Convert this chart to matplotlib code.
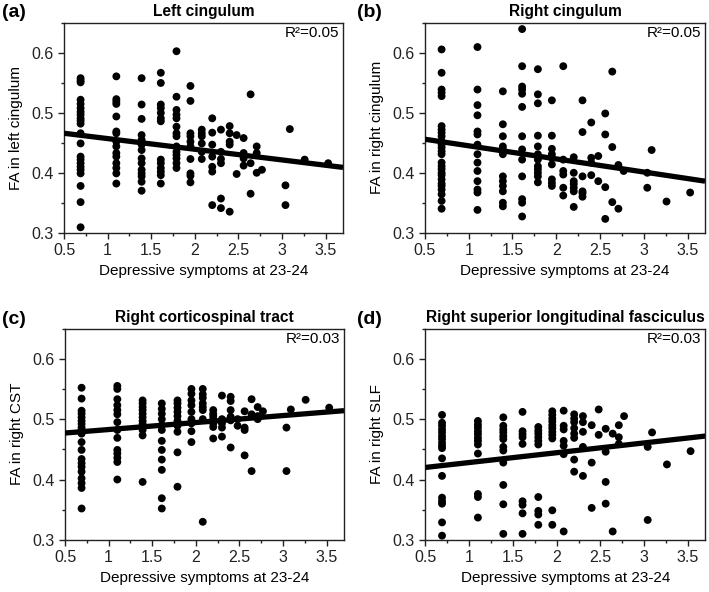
import matplotlib
matplotlib.use("Agg")
import matplotlib.pyplot as plt
from matplotlib.ticker import MultipleLocator

plt.rcParams['font.family'] = ['Liberation Sans', 'DejaVu Sans']

# x levels shared by all panels (depressive symptom scores)
x_levels = [0.69, 1.10, 1.39, 1.61, 1.79, 1.95, 2.08, 2.20, 2.30, 2.40,
            2.48, 2.56, 2.64, 2.71, 2.77, 3.04, 3.09, 3.26, 3.53]

# FA values per x level
fa_left_cing = [
    [0.558, 0.554, 0.551, 0.522, 0.515, 0.508, 0.502, 0.497, 0.491, 0.487, 0.482,
     0.466, 0.449, 0.427, 0.422, 0.416, 0.410, 0.405, 0.399, 0.378, 0.351, 0.309],
    [0.561, 0.523, 0.519, 0.515, 0.494, 0.469, 0.466, 0.452, 0.444, 0.433, 0.427,
     0.416, 0.408, 0.399, 0.382],
    [0.558, 0.514, 0.490, 0.463, 0.455, 0.447, 0.438, 0.424, 0.416, 0.405, 0.399,
     0.394, 0.385, 0.370],
    [0.567, 0.550, 0.514, 0.508, 0.500, 0.491, 0.486, 0.422, 0.416, 0.408, 0.402,
     0.396, 0.382],
    [0.603, 0.527, 0.505, 0.497, 0.491, 0.477, 0.466, 0.461, 0.444, 0.435, 0.430,
     0.424, 0.416, 0.408],
    [0.545, 0.520, 0.466, 0.461, 0.452, 0.444, 0.423, 0.399, 0.395, 0.384],
    [0.472, 0.466, 0.461, 0.449, 0.435, 0.423],
    [0.491, 0.467, 0.447, 0.427, 0.410, 0.402, 0.346],
    [0.472, 0.435, 0.423, 0.416, 0.357, 0.341],
    [0.478, 0.466, 0.452, 0.447, 0.335],
    [0.463, 0.398],
    [0.458, 0.433, 0.424, 0.412],
    [0.531, 0.416, 0.365],
    [0.444, 0.433, 0.400],
    [0.405],
    [0.379, 0.346],
    [0.473],
    [0.422],
    [0.416],
]

fa_right_cing = [
    [0.606, 0.567, 0.539, 0.534, 0.528, 0.478, 0.472, 0.467, 0.461, 0.453, 0.447,
     0.442, 0.436, 0.431, 0.417, 0.411, 0.406, 0.400, 0.396, 0.389, 0.382, 0.378,
     0.372, 0.364, 0.353, 0.340],
    [0.610, 0.539, 0.513, 0.496, 0.469, 0.464, 0.447, 0.431, 0.417, 0.403, 0.386,
     0.372, 0.367, 0.338],
    [0.536, 0.481, 0.461, 0.444, 0.439, 0.431, 0.394, 0.386, 0.378, 0.369, 0.350, 0.344],
    [0.640, 0.578, 0.544, 0.539, 0.532, 0.510, 0.461, 0.439, 0.422, 0.394, 0.356,
     0.350, 0.327],
    [0.573, 0.531, 0.516, 0.462, 0.444, 0.431, 0.422, 0.411, 0.406, 0.400, 0.394, 0.384],
    [0.521, 0.462, 0.440, 0.431, 0.425, 0.414, 0.389, 0.383, 0.378],
    [0.578, 0.422, 0.403, 0.397, 0.375, 0.362],
    [0.426, 0.400, 0.386, 0.381, 0.375, 0.369, 0.343],
    [0.521, 0.468, 0.394, 0.369, 0.366, 0.360],
    [0.484, 0.425, 0.417, 0.396],
    [0.428, 0.386],
    [0.499, 0.464, 0.376, 0.323],
    [0.569, 0.443, 0.351],
    [0.413, 0.340],
    [0.403],
    [0.400, 0.375],
    [0.438],
    [0.352],
    [0.367],
]

fa_right_cst = [
    [0.552, 0.534, 0.514, 0.509, 0.503, 0.497, 0.492, 0.486, 0.482, 0.476, 0.462,
     0.449, 0.434, 0.427, 0.421, 0.413, 0.402, 0.394, 0.386, 0.352],
    [0.555, 0.550, 0.533, 0.523, 0.515, 0.508, 0.495, 0.482, 0.469, 0.449, 0.443,
     0.436, 0.429, 0.400],
    [0.531, 0.526, 0.520, 0.515, 0.509, 0.503, 0.497, 0.492, 0.487, 0.482, 0.473, 0.396],
    [0.526, 0.517, 0.509, 0.500, 0.490, 0.482, 0.464, 0.449, 0.433, 0.416, 0.369, 0.352],
    [0.531, 0.526, 0.519, 0.512, 0.505, 0.497, 0.489, 0.479, 0.445, 0.388],
    [0.550, 0.542, 0.531, 0.523, 0.512, 0.500, 0.493, 0.480, 0.462],
    [0.550, 0.541, 0.535, 0.526, 0.520, 0.515, 0.500, 0.330],
    [0.515, 0.509, 0.505, 0.500, 0.493, 0.487, 0.468],
    [0.539, 0.500, 0.493, 0.486, 0.471],
    [0.537, 0.530, 0.515, 0.504, 0.498, 0.453],
    [0.500, 0.489],
    [0.513, 0.486, 0.482, 0.440],
    [0.533, 0.508, 0.414],
    [0.520, 0.505, 0.500],
    [0.513],
    [0.486, 0.414],
    [0.516],
    [0.532],
    [0.519],
]

fa_right_slf = [
    [0.507, 0.494, 0.489, 0.483, 0.478, 0.472, 0.467, 0.461, 0.456, 0.452, 0.435,
     0.406, 0.370, 0.364, 0.360, 0.329, 0.307],
    [0.497, 0.491, 0.486, 0.480, 0.475, 0.469, 0.464, 0.458, 0.443, 0.376, 0.371, 0.337],
    [0.503, 0.489, 0.483, 0.478, 0.472, 0.467, 0.454, 0.448, 0.428, 0.391, 0.359, 0.310],
    [0.512, 0.480, 0.475, 0.470, 0.459, 0.364, 0.358, 0.344, 0.310],
    [0.487, 0.481, 0.476, 0.470, 0.464, 0.458, 0.371, 0.348, 0.342, 0.325],
    [0.513, 0.507, 0.501, 0.496, 0.490, 0.485, 0.479, 0.474, 0.468, 0.349, 0.325],
    [0.514, 0.489, 0.483, 0.464, 0.456, 0.442, 0.314],
    [0.508, 0.501, 0.495, 0.485, 0.476, 0.469, 0.433, 0.413],
    [0.505, 0.495, 0.479, 0.454, 0.406],
    [0.490, 0.428, 0.353],
    [0.516, 0.474],
    [0.484, 0.446, 0.396, 0.360],
    [0.476, 0.314],
    [0.490, 0.470, 0.459],
    [0.505],
    [0.454, 0.333],
    [0.478],
    [0.425],
    [0.447],
]

# fitted line values at x = 0.5 and x = 3.7
line_ends = [[0.466, 0.409], [0.456, 0.386], [0.477, 0.514], [0.420, 0.472]]

titles = ['Left cingulum', 'Right cingulum', 'Right corticospinal tract',
          'Right superior longitudinal fasciculus']
ylabels = ['FA in left cingulum', 'FA in right cingulum', 'FA in right CST',
           'FA in right SLF']
r2_texts = ['R\u00b2=0.05', 'R\u00b2=0.05', 'R\u00b2=0.03', 'R\u00b2=0.03']
panel_tags = ['(a)', '(b)', '(c)', '(d)']
all_fa = [fa_left_cing, fa_right_cing, fa_right_cst, fa_right_slf]

fig = plt.figure(figsize=(7.09, 5.92), dpi=100)
boxes = [[0.0903, 0.607, 0.3935, 0.354],
         [0.5994, 0.607, 0.395, 0.354],
         [0.0917, 0.088, 0.3935, 0.357],
         [0.600, 0.088, 0.395, 0.357]]
tag_pos = [(0.003, 0.979), (0.503, 0.979), (0.003, 0.46), (0.503, 0.46)]

for i in range(4):
    ax = fig.add_axes(boxes[i])
    xs, ys = [], []
    for xv, col in zip(x_levels, all_fa[i]):
        xs += [xv] * len(col)
        ys += col
    ax.scatter(xs, ys, s=32, color='black', edgecolors='none', zorder=3)
    ax.plot([0.5, 3.7], line_ends[i], color='black', lw=3.8, zorder=4,
            solid_capstyle='butt')

    ax.set_xlim(0.5, 3.7)
    ax.set_ylim(0.3, 0.65)
    ax.xaxis.set_minor_locator(MultipleLocator(0.25))
    ax.yaxis.set_minor_locator(MultipleLocator(0.05))
    ax.set_xticks([0.5, 1, 1.5, 2, 2.5, 3, 3.5])
    ax.set_xticklabels(['0.5', '1', '1.5', '2', '2.5', '3', '3.5'])
    ax.set_yticks([0.3, 0.4, 0.5, 0.6])
    ax.set_yticklabels(['0.3', '0.4', '0.5', '0.6'])
    ax.tick_params(which='major', length=4, width=1, labelsize=11.5, colors='#222222')
    ax.tick_params(which='minor', length=2, width=1, colors='#222222')
    for sp in ax.spines.values():
        sp.set_linewidth(1.0)
        sp.set_color('#222222')

    ax.set_xlabel('Depressive symptoms at 23-24', fontsize=11, labelpad=4)
    ax.set_ylabel(ylabels[i], fontsize=11, labelpad=6)
    ax.set_title(titles[i], fontsize=11.2, fontweight='bold', pad=5)
    ax.text(0.985, 0.985, r2_texts[i], transform=ax.transAxes, ha='right',
            va='top', fontsize=11)
    fig.text(tag_pos[i][0], tag_pos[i][1], panel_tags[i], fontsize=14,
             fontweight='bold', ha='left', va='center')

fig.savefig('out.png', dpi=100)
